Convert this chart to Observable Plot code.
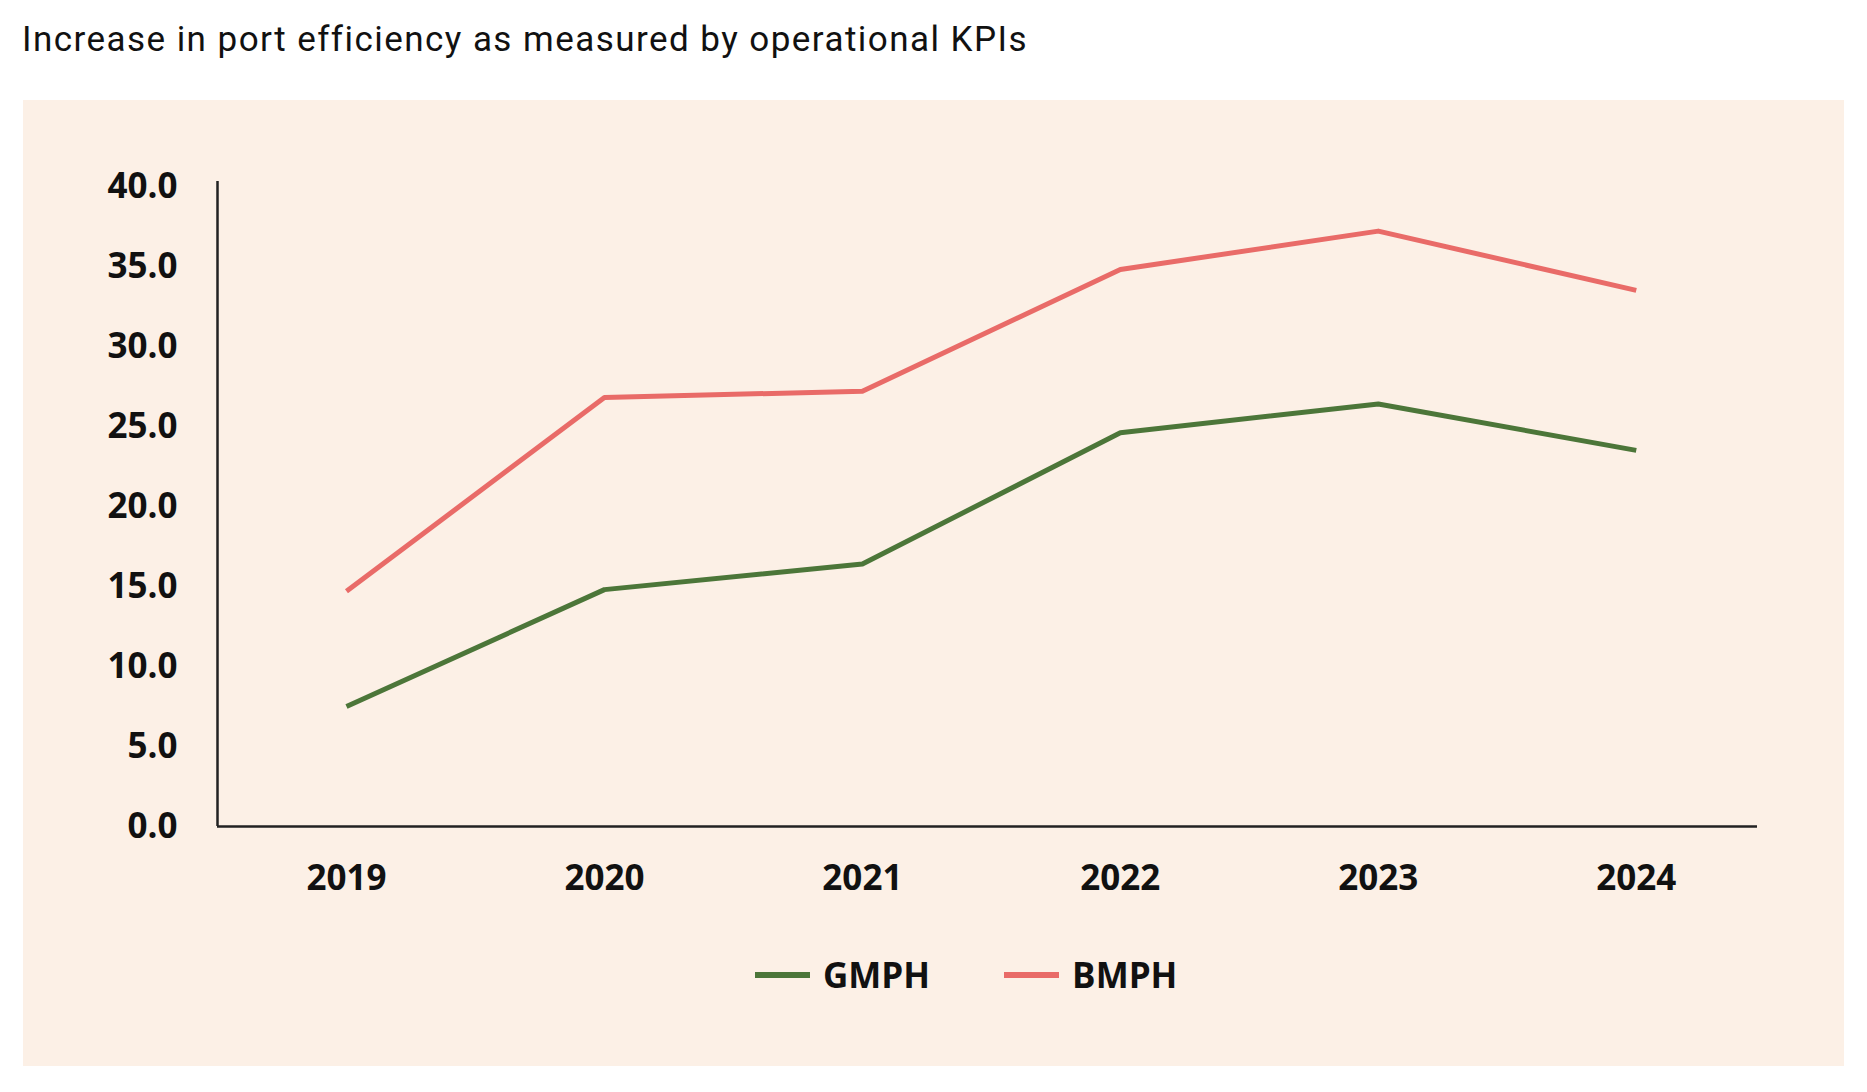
<!DOCTYPE html>
<html>
<head>
<meta charset="utf-8">
<script src="https://cdn.jsdelivr.net/npm/d3@7"></script>
<script src="https://cdn.jsdelivr.net/npm/@observablehq/plot@0.6"></script>
<style>
  body { margin: 0; background: #ffffff; }
  #title { position: absolute; left: 22px; top: 22px; font: 400 35px/35px Roboto, sans-serif; letter-spacing: 1.45px; color: #111; white-space: nowrap; }
  #panel { position: absolute; left: 23px; top: 100px; width: 1821px; height: 966px; background: #fcf0e6; }
  #chart { position: absolute; left: 0; top: 0; }
  #legend { position: absolute; left: 732px; top: 857px; height: 35px; display: flex; align-items: center;
            font: 700 35px/35px "Open Sans", sans-serif; color: #111; }
  .item { display: flex; align-items: center; margin-right: 74px; }
  .sw { display: inline-block; width: 55px; height: 6px; margin-right: 13px; }
</style>
</head>
<body>
<div id="title">Increase in port efficiency as measured by operational KPIs</div>
<div id="panel">
  <div id="chart"></div>
  <div id="legend"></div>
</div>
<script>
const years = [2019, 2020, 2021, 2022, 2023, 2024];
const gmph = [7.5, 14.8, 16.4, 24.6, 26.4, 23.5];
const bmph = [14.7, 26.8, 27.2, 34.8, 37.2, 33.5];
const seriesNames = ["GMPH", "BMPH"];
const seriesColors = ["#4c7639", "#e96b68"];
const yTicks = [0, 5, 10, 15, 20, 25, 30, 35, 40];

const data = [];
years.forEach((yr, i) => {
  data.push({year: yr, value: gmph[i], series: "GMPH"});
  data.push({year: yr, value: bmph[i], series: "BMPH"});
});

const chart = Plot.plot({
  width: 1821,
  height: 830,
  marginLeft: 194,
  marginRight: 87,
  marginTop: 81,
  marginBottom: 104,
  style: {background: "transparent", fontFamily: "'Open Sans', sans-serif", fontSize: "35px", fontWeight: 700, color: "#111", overflow: "visible"},
  x: {type: "linear", domain: [2018.5, 2024.47], ticks: years, tickFormat: "d", tickSize: 0, tickPadding: 39, label: null},
  y: {domain: [0, 40.3], ticks: yTicks, tickFormat: d => d.toFixed(1), tickSize: 0, tickPadding: 40, label: null},
  color: {domain: seriesNames, range: seriesColors},
  marks: [
    Plot.ruleY([0], {stroke: "#222", strokeWidth: 2.5}),
    Plot.ruleX([2018.5], {y1: 0, y2: 40.3, stroke: "#222", strokeWidth: 2.5}),
    Plot.line(data, {x: "year", y: "value", z: "series", stroke: "series", strokeWidth: 5, strokeLinejoin: "round", strokeLinecap: "butt"})
  ]
});
document.getElementById("chart").appendChild(chart);

const legend = document.getElementById("legend");
seriesNames.forEach((name, i) => {
  const item = document.createElement("div");
  item.className = "item";
  const sw = document.createElement("span");
  sw.className = "sw";
  sw.style.background = seriesColors[i];
  const label = document.createElement("span");
  label.textContent = name;
  item.appendChild(sw);
  item.appendChild(label);
  legend.appendChild(item);
});
</script>
</body>
</html>
